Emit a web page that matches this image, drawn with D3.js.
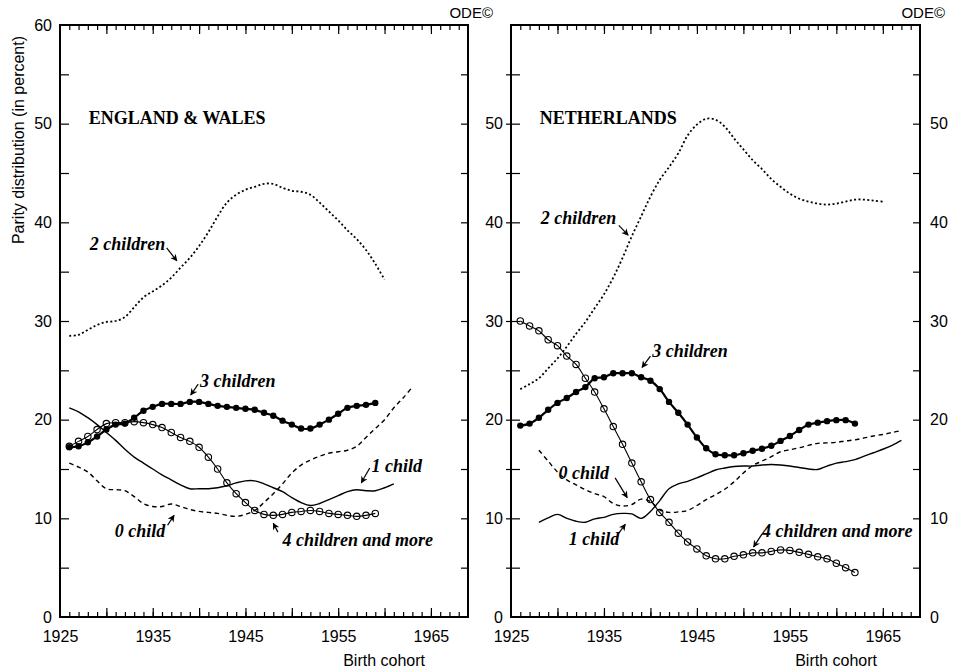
<!DOCTYPE html>
<html>
<head>
<meta charset="utf-8">
<script src="https://cdn.jsdelivr.net/npm/d3@7"></script>
<style>
  body { margin: 0; background: #fff; }
  svg { display: block; }
</style>
</head>
<body>
<svg id="chart" width="955" height="672"></svg>
<script>
// ---- axes ----
const xDomain = [1925, 1969];
const yDomain = [0, 60];
const xTickLabels = [1925, 1935, 1945, 1955, 1965];
const ewYLabels = [0, 10, 20, 30, 40, 50, 60];
const nlYLabels = [0, 10, 20, 30, 40, 50];

// ---- England & Wales: parity distribution by birth cohort (%) ----
const ew0Start = 1926;   // 0 child
const ew0 = [15.6, 15.2, 14.7, 13.8, 13.0, 12.9, 12.8, 12.2, 11.5, 11.2,
             11.2, 11.45, 11.2, 10.9, 10.7, 10.6, 10.5, 10.3, 10.2, 10.4,
             10.8, 11.6, 12.5, 13.5, 14.6, 15.4, 15.9, 16.3, 16.6, 16.75,
             16.9, 17.3, 18.2, 19.1, 20.0, 21.2, 22.2, 23.3];
const ew1Start = 1926;   // 1 child
const ew1 = [21.2, 20.8, 20.2, 19.5, 18.7, 17.9, 17.0, 16.2, 15.6, 15.0,
             14.4, 13.9, 13.4, 13.0, 13.0, 13.0, 13.1, 13.3, 13.6, 13.8,
             13.8, 13.5, 13.1, 12.7, 12.1, 11.6, 11.3, 11.5, 11.9, 12.3,
             12.7, 12.9, 12.8, 12.8, 13.1, 13.5];
const ew2Start = 1926;   // 2 children
const ew2 = [28.5, 28.6, 29.1, 29.6, 29.9, 30.0, 30.4, 31.4, 32.4, 33.0,
             33.6, 34.4, 35.4, 36.4, 37.6, 39.0, 40.6, 42.0, 42.8, 43.3,
             43.6, 43.9, 43.9, 43.5, 43.2, 43.1, 42.8, 42.0, 41.1, 40.2,
             39.2, 38.3, 37.2, 35.8, 34.2];
const ew3Start = 1926;   // 3 children
const ew3 = [17.2, 17.3, 17.7, 18.3, 19.0, 19.5, 19.6, 20.2, 20.9, 21.3,
             21.6, 21.6, 21.6, 21.8, 21.8, 21.6, 21.4, 21.3, 21.2, 21.1,
             21.0, 20.7, 20.4, 19.9, 19.5, 19.1, 19.1, 19.5, 20.0, 20.6,
             21.2, 21.4, 21.5, 21.7];
const ew4Start = 1926;   // 4 children and more
const ew4 = [17.3, 17.8, 18.3, 19.0, 19.6, 19.7, 19.7, 19.8, 19.7, 19.5,
             19.2, 18.7, 18.2, 17.8, 17.2, 16.2, 15.0, 13.6, 12.5, 11.6,
             10.8, 10.4, 10.3, 10.4, 10.6, 10.7, 10.8, 10.7, 10.5, 10.4,
             10.3, 10.2, 10.3, 10.5];

// ---- Netherlands ----
const nl0Start = 1928;
const nl0 = [16.9, 15.8, 14.7, 13.9, 13.4, 12.9, 12.5, 12.2, 11.5, 11.25,
             11.4, 11.95, 11.7, 10.85, 10.6, 10.65, 10.8, 11.3, 11.9, 12.4,
             12.95, 13.7, 14.6, 15.35, 15.8, 16.25, 16.75, 16.95, 17.15, 17.4,
             17.6, 17.65, 17.7, 17.85, 17.95, 18.15, 18.35, 18.5, 18.7, 18.9];
const nl1Start = 1928;
const nl1 = [9.6, 10.05, 10.4, 10.0, 9.7, 9.6, 9.95, 10.1, 10.4, 10.5,
             10.45, 10.0, 10.7, 11.8, 13.0, 13.5, 13.75, 14.1, 14.5, 14.9,
             15.1, 15.25, 15.3, 15.3, 15.4, 15.45, 15.4, 15.3, 15.15, 15.0,
             14.95, 15.3, 15.6, 15.75, 15.95, 16.3, 16.65, 17.0, 17.4, 17.9];
const nl2Start = 1926;
const nl2 = [23.1, 23.6, 24.2, 25.2, 26.2, 27.4, 28.7, 29.9, 31.3, 32.7,
             34.4, 36.4, 38.6, 40.6, 42.6, 44.3, 45.6, 47.0, 48.8, 49.9,
             50.5, 50.4, 49.7, 48.5, 47.4, 46.3, 45.4, 44.4, 43.6, 42.9,
             42.4, 42.1, 41.9, 41.8, 41.9, 42.1, 42.3, 42.3, 42.2, 42.1];
const nl3Start = 1926;
const nl3 = [19.4, 19.6, 20.2, 21.0, 21.7, 22.2, 22.8, 23.3, 24.2, 24.3,
             24.7, 24.7, 24.7, 24.3, 23.95, 23.1, 21.8, 20.7, 19.5, 18.2,
             17.1, 16.5, 16.4, 16.4, 16.6, 16.85, 17.05, 17.35, 17.85, 18.35,
             18.95, 19.5, 19.7, 19.85, 19.95, 19.95, 19.6];
const nl4Start = 1926;
const nl4 = [30.0, 29.5, 29.0, 28.1, 27.5, 26.45, 25.6, 24.2, 22.8, 21.1,
             19.3, 17.5, 15.6, 13.7, 11.9, 10.6, 9.6, 8.5, 7.6, 6.9,
             6.2, 5.9, 5.9, 6.15, 6.3, 6.5, 6.5, 6.65, 6.8, 6.75,
             6.55, 6.35, 6.1, 5.9, 5.45, 5.0, 4.5];

// Pair each value with its cohort year
const toPoints = (start, vals) => vals.map((v, i) => ({ year: start + i, value: v }));

// Curve labels, placed in (cohort, percent) coordinates with an arrow to the curve
const ewNotes = [
  { text: '2 children', at: [1928.2, 37.2], from: [1936.5, 37.4], to: [1937.6, 36.1] },
  { text: '3 children', at: [1940.1, 23.3], from: [1939.9, 23.6], to: [1939.1, 22.5] },
  { text: '1 child', at: [1958.6, 14.7], from: [1958.4, 15.1], to: [1957.5, 13.6] },
  { text: '0 child', at: [1930.9, 8.1], from: [1936.6, 9.3], to: [1937.3, 10.3] },
  { text: '4 children and more', at: [1949.0, 7.2], from: [1948.5, 8.6], to: [1948.0, 9.5] }
];
const nlNotes = [
  { text: '2 children', at: [1928.2, 39.8], from: [1936.6, 39.7], to: [1937.6, 38.7] },
  { text: '3 children', at: [1940.2, 26.35], from: [1940.0, 26.45], to: [1939.1, 25.3] },
  { text: '0 child', at: [1930.1, 14.0], from: [1936.2, 14.1], to: [1937.5, 12.1] },
  { text: '1 child', at: [1931.2, 7.3], from: [1936.6, 8.5], to: [1937.3, 9.4] },
  { text: '4 children and more', at: [1952.0, 8.1], from: [1952.0, 8.4], to: [1951.1, 7.1] }
];

const panels = [
  {
    title: 'ENGLAND & WALES', left: 60, right: 468,
    leftLabels: ewYLabels, rightLabels: [], outerLeftTicks: false,
    series: [
      { pts: toPoints(ew2Start, ew2), kind: 'dotted' },
      { pts: toPoints(ew0Start, ew0), kind: 'dashed' },
      { pts: toPoints(ew1Start, ew1), kind: 'solid' },
      { pts: toPoints(ew4Start, ew4), kind: 'open' },
      { pts: toPoints(ew3Start, ew3), kind: 'filled' }
    ],
    notes: ewNotes
  },
  {
    title: 'NETHERLANDS', left: 511, right: 920,
    leftLabels: nlYLabels, rightLabels: nlYLabels, outerLeftTicks: true,
    series: [
      { pts: toPoints(nl2Start, nl2), kind: 'dotted' },
      { pts: toPoints(nl0Start, nl0), kind: 'dashed' },
      { pts: toPoints(nl1Start, nl1), kind: 'solid' },
      { pts: toPoints(nl4Start, nl4), kind: 'open' },
      { pts: toPoints(nl3Start, nl3), kind: 'filled' }
    ],
    notes: nlNotes
  }
];

const TOP = 25, BOTTOM = 617;
const SANS = "'Liberation Sans', Arial, sans-serif";
const SERIF = "'Liberation Serif', 'Times New Roman', serif";

const svg = d3.select('#chart');
svg.append('rect').attr('width', 955).attr('height', 672).attr('fill', '#fff');

svg.append('defs').append('marker')
  .attr('id', 'arrowhead')
  .attr('viewBox', '0 0 10 10')
  .attr('refX', 9).attr('refY', 5)
  .attr('markerWidth', 8).attr('markerHeight', 7)
  .attr('markerUnits', 'userSpaceOnUse')
  .attr('orient', 'auto')
  .append('path')
  .attr('d', 'M0,0 L10,5 L0,10 L3,5 Z')
  .attr('fill', '#000');

function styleAxis(sel, size) {
  sel.select('.domain').remove();
  sel.selectAll('line').attr('stroke', '#000').attr('stroke-width', 1.2);
  sel.selectAll('text').attr('fill', '#000');
  sel.attr('font-family', SANS).attr('font-size', size || 16);
}

panels.forEach(p => {
  const x = d3.scaleLinear().domain(xDomain).range([p.left, p.right]);
  const y = d3.scaleLinear().domain(yDomain).range([BOTTOM, TOP]);
  const g = svg.append('g');

  const yearTicks = d3.range(1926, 1969);
  const fiveTicks = d3.range(1930, 1969, 5);
  const yMinor = d3.range(5, 60, 5);

  // cohort ticks along bottom and top edges, pointing inwards
  g.append('g').attr('transform', `translate(0,${BOTTOM})`)
    .call(d3.axisTop(x).tickValues(yearTicks).tickSize(5).tickFormat(''))
    .call(styleAxis);
  g.append('g').attr('transform', `translate(0,${BOTTOM})`)
    .call(d3.axisTop(x).tickValues(fiveTicks).tickSize(9).tickFormat(''))
    .call(styleAxis);
  g.append('g').attr('transform', `translate(0,${TOP})`)
    .call(d3.axisBottom(x).tickValues(yearTicks).tickSize(5).tickFormat(''))
    .call(styleAxis);
  g.append('g').attr('transform', `translate(0,${TOP})`)
    .call(d3.axisBottom(x).tickValues(fiveTicks).tickSize(9).tickFormat(''))
    .call(styleAxis);
  g.append('g').attr('transform', `translate(0,${BOTTOM})`)
    .call(d3.axisBottom(x).tickValues(xTickLabels).tickSize(0).tickPadding(14).tickFormat(d3.format('d')))
    .call(styleAxis);

  // percent ticks on both sides
  g.append('g').attr('transform', `translate(${p.left},0)`)
    .call(d3.axisRight(y).tickValues(yMinor).tickSize(9).tickFormat(''))
    .call(styleAxis);
  if (p.outerLeftTicks) {
    g.append('g').attr('transform', `translate(${p.left},0)`)
      .call(d3.axisLeft(y).tickValues(yMinor).tickSize(5).tickFormat(''))
      .call(styleAxis);
  }
  g.append('g').attr('transform', `translate(${p.right},0)`)
    .call(d3.axisLeft(y).tickValues(yMinor).tickSize(7).tickFormat(''))
    .call(styleAxis);
  g.append('g').attr('transform', `translate(${p.left},0)`)
    .call(d3.axisLeft(y).tickValues(p.leftLabels).tickSize(0).tickPadding(8).tickFormat(d3.format('d')))
    .call(styleAxis);
  if (p.rightLabels.length) {
    g.append('g').attr('transform', `translate(${p.right},0)`)
      .call(d3.axisRight(y).tickValues(p.rightLabels).tickSize(0).tickPadding(10).tickFormat(d3.format('d')))
      .call(styleAxis);
  }

  // frame
  g.append('rect')
    .attr('x', p.left).attr('y', TOP)
    .attr('width', p.right - p.left).attr('height', BOTTOM - TOP)
    .attr('fill', 'none').attr('stroke', '#000').attr('stroke-width', 2);

  const line = d3.line()
    .x(d => x(d.year)).y(d => y(d.value))
    .curve(d3.curveCatmullRom.alpha(0.5));

  p.series.forEach(s => {
    const path = g.append('path').datum(s.pts)
      .attr('d', line).attr('fill', 'none').attr('stroke', '#000');
    if (s.kind === 'dotted') path.attr('stroke-width', 1.8).attr('stroke-dasharray', '2 2.4');
    if (s.kind === 'dashed') path.attr('stroke-width', 1.4).attr('stroke-dasharray', '4.5 3.5');
    if (s.kind === 'solid') path.attr('stroke-width', 1.4);
    if (s.kind === 'open') path.attr('stroke-width', 1.1);
    if (s.kind === 'filled') path.attr('stroke-width', 2.2);

    if (s.kind === 'open') {
      g.append('g').selectAll('circle').data(s.pts).join('circle')
        .attr('cx', d => x(d.year)).attr('cy', d => y(d.value))
        .attr('r', 3.2).attr('fill', 'none').attr('stroke', '#000').attr('stroke-width', 1.1);
    }
    if (s.kind === 'filled') {
      g.append('g').selectAll('circle').data(s.pts).join('circle')
        .attr('cx', d => x(d.year)).attr('cy', d => y(d.value))
        .attr('r', 3.2).attr('fill', '#000');
    }
  });

  // country title
  g.append('text')
    .attr('x', x(1928.1)).attr('y', y(50))
    .attr('font-family', SERIF).attr('font-weight', 'bold').attr('font-size', 18)
    .text(p.title);

  // curve labels with arrows
  p.notes.forEach(n => {
    g.append('text')
      .attr('x', x(n.at[0])).attr('y', y(n.at[1]))
      .attr('font-family', SERIF).attr('font-weight', 'bold').attr('font-style', 'italic')
      .attr('font-size', 18)
      .text(n.text);
    g.append('line')
      .attr('x1', x(n.from[0])).attr('y1', y(n.from[1]))
      .attr('x2', x(n.to[0])).attr('y2', y(n.to[1]))
      .attr('stroke', '#000').attr('stroke-width', 1.2)
      .attr('marker-end', 'url(#arrowhead)');
  });

  // x-axis title and copyright mark
  g.append('text')
    .attr('x', p.right - 43).attr('y', 666)
    .attr('text-anchor', 'end')
    .attr('font-family', SANS).attr('font-size', 16)
    .text('Birth cohort');
  g.append('text')
    .attr('x', p.right + 25).attr('y', 18)
    .attr('text-anchor', 'end')
    .attr('font-family', SANS).attr('font-size', 15)
    .text('ODE©');
});

// y-axis title
svg.append('text')
  .attr('transform', 'translate(24,140) rotate(-90)')
  .attr('text-anchor', 'middle')
  .attr('font-family', SANS).attr('font-size', 16)
  .text('Parity distribution (in percent)');
</script>
</body>
</html>
